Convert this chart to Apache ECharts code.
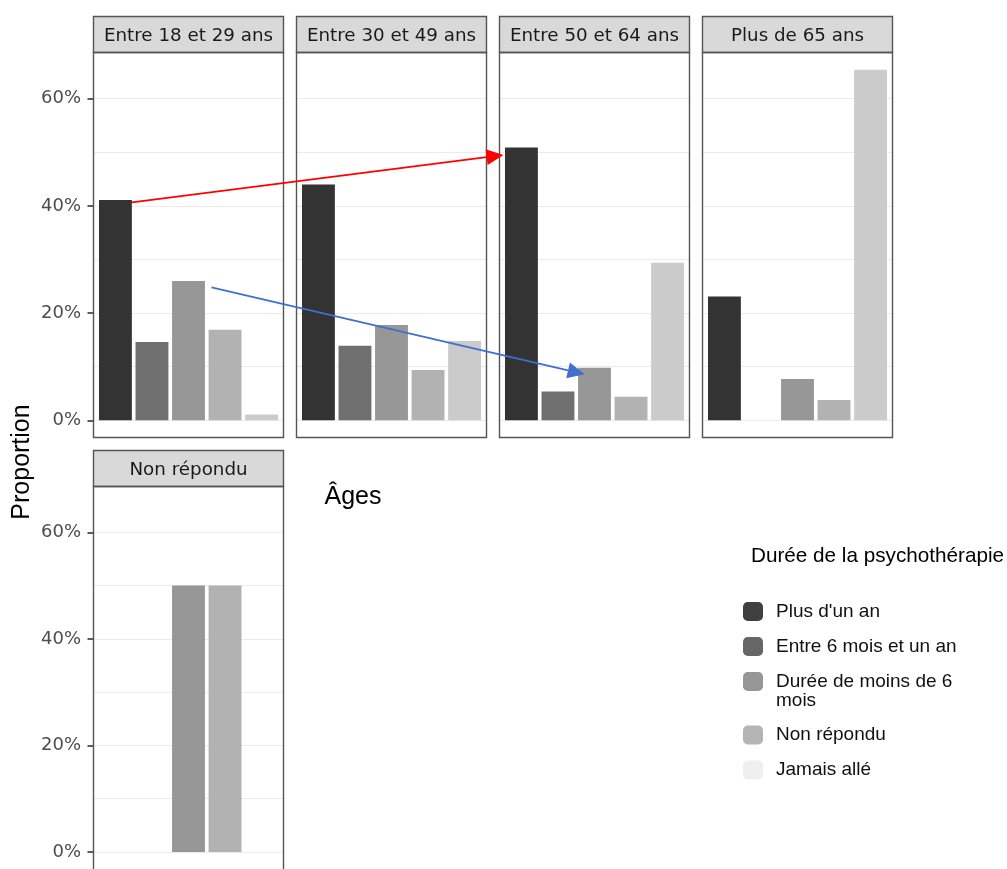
<!DOCTYPE html>
<html><head><meta charset="utf-8">
<script src="https://cdn.jsdelivr.net/npm/echarts@6/dist/echarts.min.js"></script>
<style>html,body{margin:0;padding:0;background:#fff}#c{width:1007px;height:869px}</style>
</head><body><div id="c"></div>
<script>
// ---- data ----
const ages = ["Entre 18 et 29 ans", "Entre 30 et 49 ans", "Entre 50 et 64 ans", "Plus de 65 ans", "Non répondu"];
const durations = ["Plus d'un an", "Entre 6 mois et un an", "Durée de moins de 6 mois", "Non répondu", "Jamais allé"];
// one array per duration, values per age group (in %)
const plusUnAn     = [41.1, 44.0, 50.9, 23.1, 0];
const entre6Mois   = [14.6, 13.9, 5.4, 0, 0];
const moinsDe6Mois = [26.0, 17.8, 9.8, 7.7, 50];
const nonRepondu   = [16.9, 9.4, 4.4, 3.8, 50];
const jamaisAlle   = [1.1, 14.8, 29.4, 65.4, 0];
const yTicks = [0, 20, 40, 60];
const yMin = -3.2, yMax = 68.6;

const seriesValues = [plusUnAn, entre6Mois, moinsDe6Mois, nonRepondu, jamaisAlle];
const barColors = ['#333333', '#6f6f6f', '#979797', '#b2b2b2', '#cbcbcb'];
const legendColors = ['#404040', '#666666', '#969696', '#b4b4b4', '#efefef'];

// ---- layout ----
const PW = 190, PH = 385, STRIP = 36;
const panels = [
  {left: 93.5, top: 52.5}, {left: 296.5, top: 52.5}, {left: 499.5, top: 52.5},
  {left: 702.5, top: 52.5}, {left: 93.5, top: 486.5}
];
const unit = PW / 5.2, inset = 0.1 * unit;

const grids = [], xAxes = [], yAxes = [], series = [], graphics = [];
panels.forEach((p, i) => {
  grids.push({left: p.left, top: p.top, width: PW, height: PH});
  grids.push({left: p.left + inset, top: p.top, width: PW - 2 * inset, height: PH});
  xAxes.push({type: 'value', gridIndex: 2 * i, min: 0, max: 1, show: false});
  xAxes.push({type: 'category', gridIndex: 2 * i + 1, data: durations, show: false});
  yAxes.push({
    type: 'value', gridIndex: 2 * i, min: yMin, max: yMax, minInterval: 10, maxInterval: 10,
    axisLine: {show: false}, axisTick: {show: false}, axisLabel: {show: false},
    splitLine: {show: true, showMinLine: false, showMaxLine: false, lineStyle: {color: '#ebebeb', width: 1}}
  });
  const firstCol = (i === 0 || i === 4);
  yAxes.push({
    type: 'value', gridIndex: 2 * i + 1, min: yMin, max: yMax, show: firstCol, offset: inset, position: 'left',
    axisLine: {show: false}, splitLine: {show: false},
    axisTick: {show: true, length: 6, customValues: yTicks, lineStyle: {color: '#333', width: 1.6}},
    axisLabel: {
      customValues: yTicks, margin: 12.5, color: '#4d4d4d', fontSize: 18, fontFamily: 'DejaVu Sans',
      padding: [3, 0, 0, 0],
      formatter: v => (Math.abs(v - Math.round(v / 20) * 20) < 1e-6 ? Math.round(v) + '%' : '')
    }
  });
  durations.forEach((d, k) => {
    series.push({
      type: 'bar', name: d, xAxisIndex: 2 * i + 1, yAxisIndex: 2 * i + 1,
      barGap: '-100%', barCategoryGap: '10%', silent: true,
      itemStyle: {color: barColors[k]},
      data: durations.map((_, j) => (j === k ? seriesValues[k][i] : null))
    });
  });
  graphics.push({type: 'rect', z: 10, shape: {x: p.left, y: p.top - STRIP, width: PW, height: STRIP},
    style: {fill: '#d9d9d9', stroke: '#555', lineWidth: 1.4}});
  graphics.push({type: 'text', z: 11, x: p.left + PW / 2, y: p.top - STRIP / 2 + 1.5,
    style: {text: ages[i], fontSize: 18.3, fontFamily: 'DejaVu Sans', fill: '#1a1a1a',
      align: 'center', verticalAlign: 'middle', textAlign: 'center', textVerticalAlign: 'middle'}});
  graphics.push({type: 'rect', z: 10, shape: {x: p.left, y: p.top, width: PW, height: PH},
    style: {fill: 'none', stroke: '#555', lineWidth: 1.4}});
});

graphics.push({type: 'text', z: 11, x: 22, y: 462, rotation: Math.PI / 2,
  style: {text: 'Proportion', fontSize: 25, fontFamily: 'Liberation Sans', fill: '#000',
    align: 'center', verticalAlign: 'middle', textAlign: 'center', textVerticalAlign: 'middle'}});
graphics.push({type: 'text', z: 11, x: 353, y: 497,
  style: {text: 'Âges', fontSize: 25, fontFamily: 'Liberation Sans', fill: '#000',
    align: 'center', verticalAlign: 'middle', textAlign: 'center', textVerticalAlign: 'middle'}});
graphics.push({type: 'text', z: 11, x: 751, y: 556,
  style: {text: 'Durée de la psychothérapie', fontSize: 20.7, fontFamily: 'Liberation Sans', fill: '#000',
    align: 'left', verticalAlign: 'middle', textAlign: 'left', textVerticalAlign: 'middle'}});

const legendBase = {
  orient: 'vertical', left: 743, padding: 0, itemWidth: 20, itemHeight: 19, itemGap: 16,
  icon: 'roundRect', selectedMode: false,
  textStyle: {fontSize: 19, fontFamily: 'Liberation Sans', color: '#111', lineHeight: 19, padding: [0, 0, 0, 8]}
};
const legItem = k => ({name: durations[k], itemStyle: {color: legendColors[k]}});
const legends = [
  Object.assign({}, legendBase, {top: 602, data: [legItem(0), legItem(1)]}),
  // leading empty line so that the key lines up with the first text line
  Object.assign({}, legendBase, {top: 653, data: [legItem(2)],
    formatter: () => '\nDurée de moins de 6\nmois'}),
  Object.assign({}, legendBase, {top: 725.5, data: [legItem(3), legItem(4)]})
];

// arrow annotations anchored to data: [panel, category index, offset in band units, value]
const arrows = [
  {from: [0, 0, 0.45, 40.66], to: [2, 0, -0.49, 49.5], color: '#ff0000'},
  {from: [0, 2, 0.63, 24.8], to: [2, 2, -0.27, 8.6], color: '#3f6fd0'}
];

const chart = echarts.init(document.getElementById('c'), null, {renderer: 'canvas'});
chart.setOption({
  animation: false, backgroundColor: '#fff',
  grid: grids, xAxis: xAxes, yAxis: yAxes, series: series, legend: legends,
  graphic: {elements: graphics}
});

function toPx(a) {
  const pt = chart.convertToPixel({gridIndex: 2 * a[0] + 1}, [a[1], a[3]]);
  return [pt[0] + a[2] * unit, pt[1]];
}
arrows.forEach(ar => {
  const s = toPx(ar.from), e = toPx(ar.to);
  const dx = e[0] - s[0], dy = e[1] - s[1], L = Math.hypot(dx, dy);
  const ux = dx / L, uy = dy / L, HL = 17, HW = 8;
  const bx = e[0] - ux * HL, by = e[1] - uy * HL;
  graphics.push({type: 'line', z: 20, shape: {x1: s[0], y1: s[1], x2: bx, y2: by},
    style: {stroke: ar.color, lineWidth: 1.7}});
  graphics.push({type: 'polygon', z: 20, shape: {points: [[e[0], e[1]], [bx - uy * HW, by + ux * HW], [bx + uy * HW, by - ux * HW]]},
    style: {fill: ar.color}});
});
chart.setOption({graphic: {elements: graphics}});
</script>
</body></html>
